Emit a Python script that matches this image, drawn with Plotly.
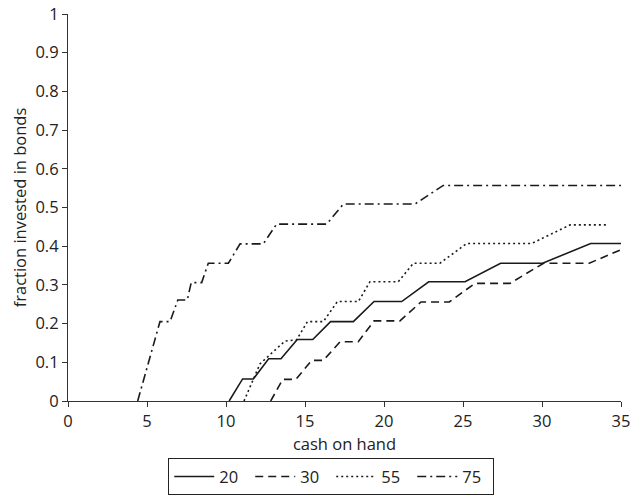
import plotly.graph_objects as go

x20 = [10.2, 11.05, 11.73, 12.7, 13.48, 14.51, 15.49, 16.62, 18.06, 19.37, 21.12, 22.83, 25.13, 27.38, 30.04, 33.08, 35.0]
y20 = [0.0, 0.057, 0.057, 0.109, 0.109, 0.159, 0.159, 0.205, 0.205, 0.257, 0.257, 0.308, 0.308, 0.356, 0.356, 0.407, 0.407]

x30 = [12.83, 13.59, 14.43, 15.42, 16.16, 17.22, 18.37, 19.37, 21.01, 22.34, 24.13, 25.76, 27.97, 30.1, 32.99, 34.94]
y30 = [0.0, 0.056, 0.056, 0.105, 0.105, 0.153, 0.153, 0.207, 0.207, 0.256, 0.256, 0.304, 0.304, 0.356, 0.356, 0.39]

x55 = [11.14, 12.15, 13.73, 14.47, 15.15, 16.16, 17.05, 18.38, 19.11, 20.9, 21.86, 23.54, 25.23, 29.35, 31.77, 34.2]
y55 = [0.0, 0.096, 0.155, 0.158, 0.205, 0.205, 0.257, 0.257, 0.308, 0.308, 0.356, 0.356, 0.407, 0.407, 0.455, 0.455]

x75 = [4.41, 5.82, 6.46, 6.95, 7.55, 7.8, 8.46, 8.88, 10.15, 10.89, 12.36, 13.2, 16.37, 17.43, 21.96, 23.75, 35.0]
y75 = [0.0, 0.205, 0.205, 0.261, 0.261, 0.306, 0.306, 0.356, 0.356, 0.406, 0.406, 0.457, 0.457, 0.509, 0.509, 0.557, 0.557]

series = [
    ("20", x20, y20, "solid"),
    ("30", x30, y30, "8px,5px"),
    ("55", x55, y55, "2px,3px"),
    ("75", x75, y75, "9px,4px,2px,4px"),
]

FONT = "Open Sans"
FS = 16.5
fig = go.Figure()
for name, xs, ys, dash in series:
    fig.add_trace(go.Scatter(x=xs, y=ys, mode="lines", name=name,
                             line=dict(color="#1a1a1a", width=1.6, dash=dash)))

axis_common = dict(showgrid=False, zeroline=False, showline=True, linecolor="#333",
                   linewidth=1.2, ticks="outside", ticklen=5, tickcolor="#333",
                   automargin=False,
                   tickfont=dict(family=FONT, size=FS, color="#222"))

fig.update_layout(
    width=634, height=496,
    margin=dict(l=68, r=13, t=14, b=95, autoexpand=False),
    paper_bgcolor="white", plot_bgcolor="white",
    font=dict(family=FONT, size=FS, color="#222"),
    xaxis=dict(range=[0, 35], dtick=5, tick0=0,
               title=dict(text="cash on hand", font=dict(family=FONT, size=FS), standoff=4),
               **axis_common),
    yaxis=dict(range=[0, 1], dtick=0.1, tick0=0,
               title=dict(text="fraction invested in bonds", font=dict(family=FONT, size=FS), standoff=4),
               **axis_common),
    legend=dict(orientation="h", x=0.476, xanchor="center", y=-0.148, yanchor="top",
                bordercolor="#222", borderwidth=1, bgcolor="white",
                font=dict(family=FONT, size=FS), itemwidth=40,
                entrywidth=26, entrywidthmode="pixels",
                tracegroupgap=0),
    showlegend=True,
)

fig.write_html("out.html", config={"displayModeBar": False},
               post_script="document.body.style.margin='0';")
